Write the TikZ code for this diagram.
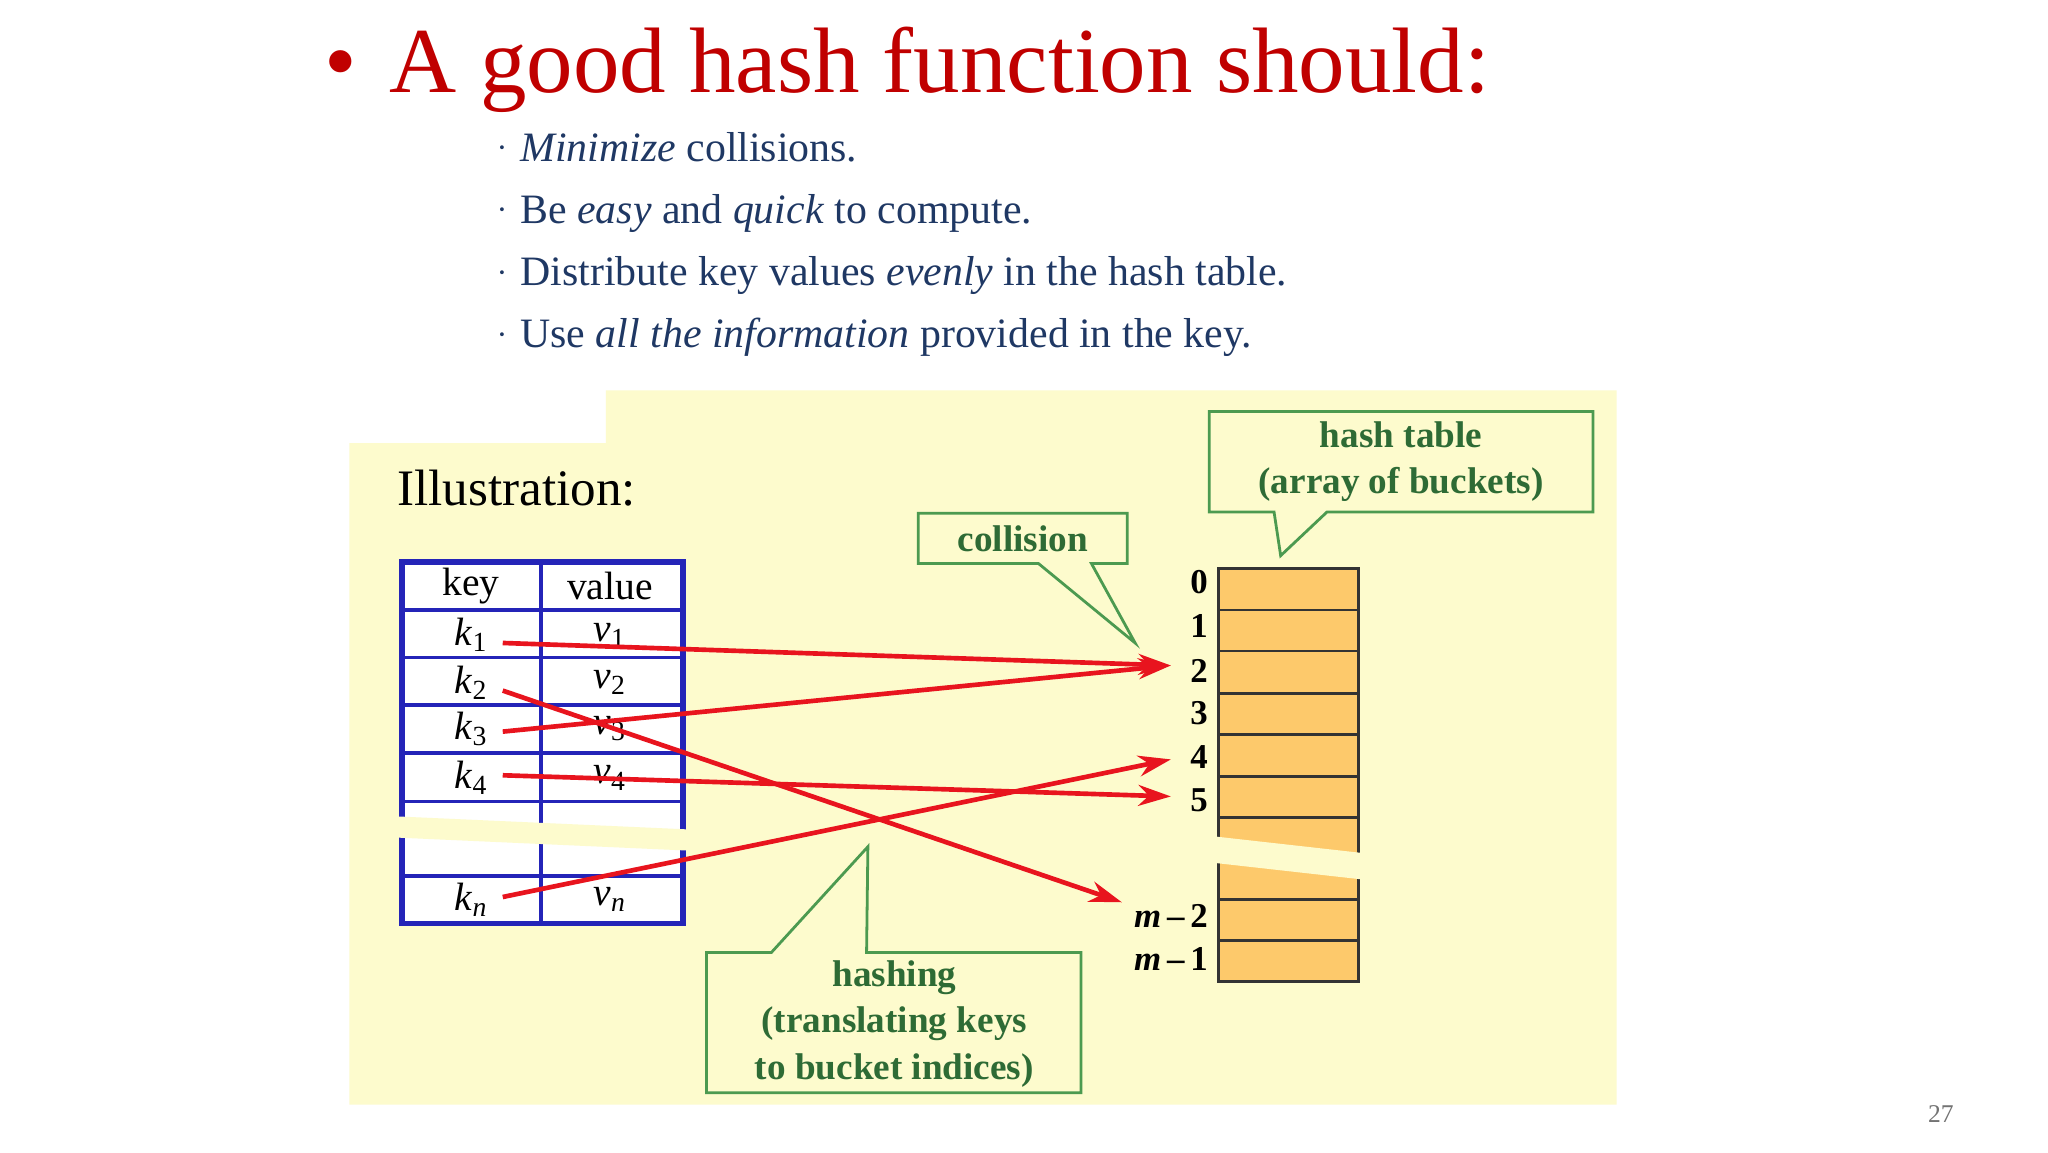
\documentclass[tikz,border=0pt]{standalone}
\usepackage{fontspec}
\setmainfont{Liberation Serif}
\usetikzlibrary{arrows.meta}
\definecolor{ttl}{HTML}{C00000}
\definecolor{bl}{HTML}{1F3864}
\definecolor{bg}{HTML}{FDFBCD}
\definecolor{tb}{HTML}{2424B8}
\definecolor{bk}{HTML}{FDC96B}
\definecolor{ar}{HTML}{E8141E}
\definecolor{gr}{HTML}{4C9A50}
\definecolor{gt}{HTML}{2E6B35}
\tikzset{
 bul/.style={anchor=base west,inner sep=0pt,text=bl,font=\fontsize{18}{20}\selectfont},
 dot/.style={anchor=base west,inner sep=0pt,text=bl,font=\fontsize{14}{16}\selectfont},
 idx/.style={anchor=east,inner sep=1pt,font=\bfseries\fontsize{15}{17}\selectfont},
 cell/.style={inner sep=0pt,font=\fontsize{17}{19}\selectfont},
 call/.style={draw=gr,line width=1.2pt,fill=bg},
 ctext/.style={inner sep=0pt,text=gt,font=\bfseries\fontsize{16}{20}\selectfont,align=center},
 hash/.style={draw=ar,line width=2pt,-{Stealth[length=14pt,width=9pt]}},
 buck/.style={draw=black!80,line width=1.2pt,fill=bk}
}
\begin{document}
\begin{tikzpicture}[x=0.02cm,y=-0.02cm]
\useasboundingbox (0,0) rectangle (1548,871);
\fill[white] (0,0) rectangle (1548,871);
% background
\fill[bg] (264,335) -- (458,335) -- (458,295) -- (1222,295) -- (1222,835) -- (264,835) -- cycle;
% title
\node[anchor=base west,inner sep=0pt,text=ttl,font=\fontsize{40}{44}\selectfont] (title) at (245,70) {•\hspace{0.35em}A good hash function should:};
\node[dot] (d1) at (375,120) {·}; \node[bul] (b1) at (393,122) {\textit{Minimize} collisions.};
\node[dot] (d2) at (375,167) {·}; \node[bul] (b2) at (393,169) {Be \textit{easy} and \textit{quick} to compute.};
\node[dot] (d3) at (375,214) {·}; \node[bul] (b3) at (393,216) {Distribute key values \textit{evenly} in the hash table.};
\node[dot] (d4) at (375,261) {·}; \node[bul] (b4) at (393,263) {Use \textit{all the information} provided in the key.};
\node[anchor=base west,inner sep=0pt,font=\fontsize{22}{24}\selectfont] (ill) at (300,382) {Illustration:};
% table
\fill[white] (304,425) rectangle (516,698);
\foreach \y in {461,497,533,569,606,662} \draw[tb,line width=1.5pt] (304,\y) -- (516,\y);
\draw[tb,line width=1.5pt] (409,425) -- (409,698);
\draw[tb,line width=2.5pt] (304,425) rectangle (516,698);
\fill[bg] (298,617) -- (522,627) -- (522,643) -- (298,633) -- cycle;
\node[cell] (hk) at (356,443) {key};
\node[cell] (hv) at (461,443) {value};
\node[cell] (k1) at (356,480) {\textit{k}\textsubscript{1}}; \node[cell] (v1) at (461,480) {\textit{v}\textsubscript{1}};
\node[cell] (k2) at (356,516) {\textit{k}\textsubscript{2}}; \node[cell] (v2) at (461,516) {\textit{v}\textsubscript{2}};
\node[cell] (k3) at (356,551) {\textit{k}\textsubscript{3}}; \node[cell] (v3) at (461,551) {\textit{v}\textsubscript{3}};
\node[cell] (k4) at (356,588) {\textit{k}\textsubscript{4}}; \node[cell] (v4) at (461,588) {\textit{v}\textsubscript{4}};
\node[cell] (kn) at (356,680) {\textit{k}\textsubscript{\textit{n}}}; \node[cell] (vn) at (461,680) {\textit{v}\textsubscript{\textit{n}}};
% buckets
\foreach \a/\b in {430/461,461/492,492/524,524/555,555/587,587/618,618/650,650/680,680/711,711/742} \draw[buck] (921,\a) rectangle (1027,\b);
\fill[bg] (916,632) -- (1032,645) -- (1032,665) -- (916,652) -- cycle;
\node[idx] (i0) at (915,440) {0};
\node[idx] (i1) at (915,473) {1};
\node[idx] (i2) at (915,507) {2};
\node[idx] (i3) at (915,539) {3};
\node[idx] (i4) at (915,572) {4};
\node[idx] (i5) at (915,605) {5};
\node[idx] (im2) at (915,692) {\textit{m}\,–\,2};
\node[idx] (im1) at (915,725) {\textit{m}\,–\,1};
% arrows
\coordinate (s1) at (380,486); \coordinate (s2) at (380,522); \coordinate (s3) at (380,553);
\coordinate (s4) at (380,586); \coordinate (sn) at (380,678);
\coordinate (t2) at (885,503); \coordinate (t4) at (885,574); \coordinate (t5) at (885,602); \coordinate (tm) at (848,682);
\draw[hash] (s1) -- (t2);
\draw[hash] (s3) -- (t2);
\draw[hash] (s4) -- (t5);
\draw[hash] (s2) -- (tm);
\draw[hash] (sn) -- (t4);
% callouts
\draw[call] (694,388) -- (852,388) -- (852,426) -- (825,426) -- (858,486) -- (785,426) -- (694,426) -- cycle;
\node[ctext] (coll) at (773,407) {collision};
\draw[call] (914,311) -- (1204,311) -- (1204,387) -- (1003,387) -- (968,420) -- (963,387) -- (914,387) -- cycle;
\node[ctext] (ht) at (1059,349) {hash table\\(array of buckets)};
\draw[call] (534,720) -- (583,720) -- (656,640) -- (655,720) -- (817,720) -- (817,826) -- (534,826) -- cycle;
\node[ctext] (hs) at (676,774) {hashing\\(translating keys\\to bucket indices)};
\node[inner sep=0pt,text=black!55,font=\fontsize{11}{12}\selectfont] (pg) at (1467,842) {27};
\end{tikzpicture}
\end{document}
